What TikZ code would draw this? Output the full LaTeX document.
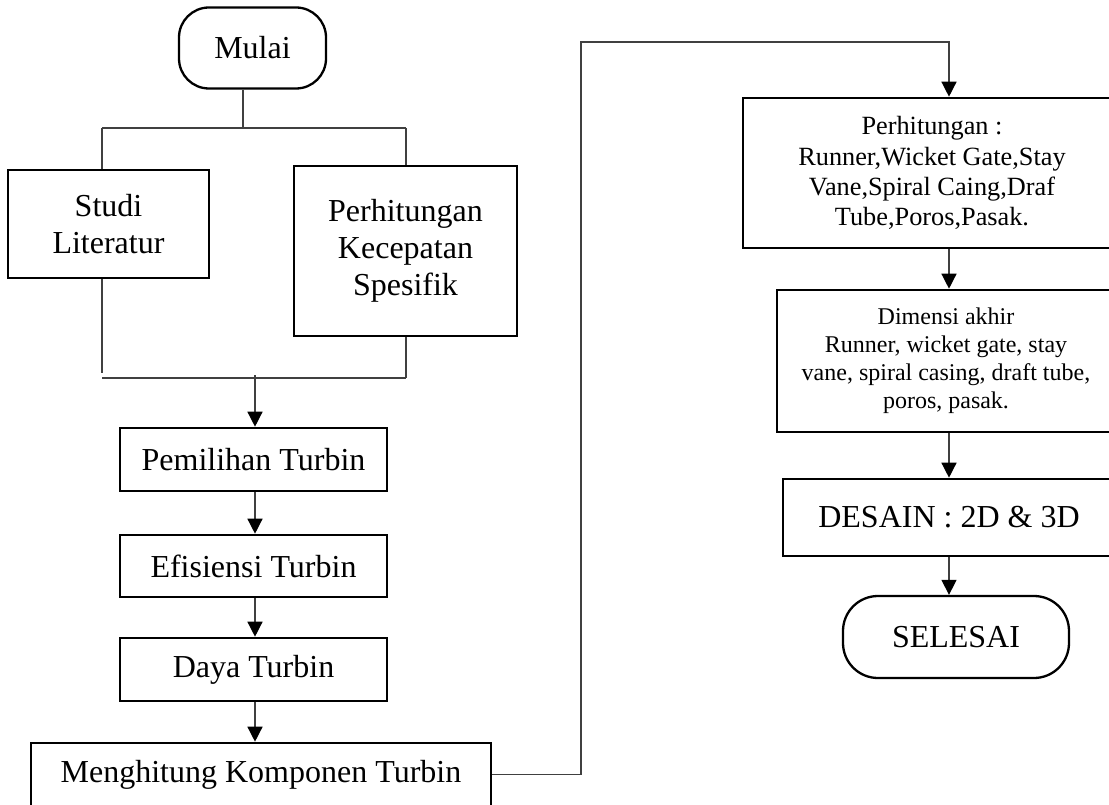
\documentclass[tikz,border=0pt]{standalone}
\usepackage{fontspec}
\setmainfont{Liberation Serif}
\usetikzlibrary{arrows.meta}
\tikzset{
  box/.style={draw=black, line width=2.6pt, inner sep=0pt, align=center, font=\fontsize{32}{36.8}\selectfont},
  term/.style={box, line width=2.3pt},
  conn/.style={draw=black!75, line width=1.4pt},
  arr/.style={conn, -{Triangle[length=15pt,width=15pt,fill=black,color=black]}},
}
\begin{document}
\begin{tikzpicture}[x=1pt,y=-1pt]
\useasboundingbox (0,0) rectangle (1109,805);
% nodes
\node[term, minimum width=147pt, minimum height=81pt, rounded corners=30pt] (mulai) at (252.5,48) {Mulai};
\node[box, minimum width=201pt, minimum height=108pt] (studi) at (108.5,224) {Studi\\Literatur};
\node[box, minimum width=223pt, minimum height=170pt] (ns) at (405.5,251) {Perhitungan\\Kecepatan\\Spesifik};
\node[box, minimum width=267pt, minimum height=63pt] (pilih) at (253.5,459.5) {Pemilihan Turbin};
\node[box, minimum width=267pt, minimum height=62pt] (efis) at (253.5,566) {Efisiensi Turbin};
\node[box, minimum width=267pt, minimum height=63pt] (daya) at (253.5,669.5) {Daya Turbin};
\node[box, minimum width=460pt, minimum height=63pt] (hitung) at (261,774.5) {Menghitung Komponen Turbin};
\node[box, minimum width=378pt, minimum height=150pt, font=\fontsize{26.3}{30.2}\selectfont] (calc) at (932,173) {Perhitungan :\\Runner,Wicket Gate,Stay\\Vane,Spiral Caing,Draf\\Tube,Poros,Pasak.};
\node[box, minimum width=338pt, minimum height=142pt, font=\fontsize{24}{28}\selectfont] (dim) at (946,361) {Dimensi akhir\\Runner, wicket gate, stay\\vane, spiral casing, draft tube,\\poros, pasak.};
\node[box, minimum width=332pt, minimum height=77pt] (desain) at (949,517.5) {DESAIN : 2D \& 3D};
\node[term, minimum width=226pt, minimum height=82pt, rounded corners=35pt] (selesai) at (956,637) {SELESAI};
% helper coordinates
\coordinate (j1) at (243,128);
\coordinate (jl) at (102,128);
\coordinate (jr) at (406,128);
\coordinate (bl) at (102,373);
\coordinate (bl2) at (102,378);
\coordinate (br) at (406,378);
\coordinate (bm) at (255,375);
\coordinate (c1) at (581,42);
\coordinate (ax) at (949,0);
% connectors
\draw[conn] (mulai.south -| j1) -- (j1);
\draw[conn] (jl) -- (jr);
\draw[conn] (jl) -- (studi.north -| jl);
\draw[conn] (jr) -- (ns.north -| jr);
\draw[conn] (studi.south -| bl) -- (bl);
\draw[conn] (ns.south -| br) -- (br);
\draw[conn] (bl2) -- (br);
\draw[arr] (bm) -- (pilih.north -| bm);
\draw[arr] (pilih.south -| bm) -- (efis.north -| bm);
\draw[arr] (efis.south -| bm) -- (daya.north -| bm);
\draw[arr] (daya.south -| bm) -- (hitung.north -| bm);
\draw[arr] (hitung.east) -| (c1) -| (calc.north -| ax);
\draw[arr] (calc.south -| ax) -- (dim.north -| ax);
\draw[arr] (dim.south -| ax) -- (desain.north -| ax);
\draw[arr] (desain.south -| ax) -- (selesai.north -| ax);
\end{tikzpicture}
\end{document}
